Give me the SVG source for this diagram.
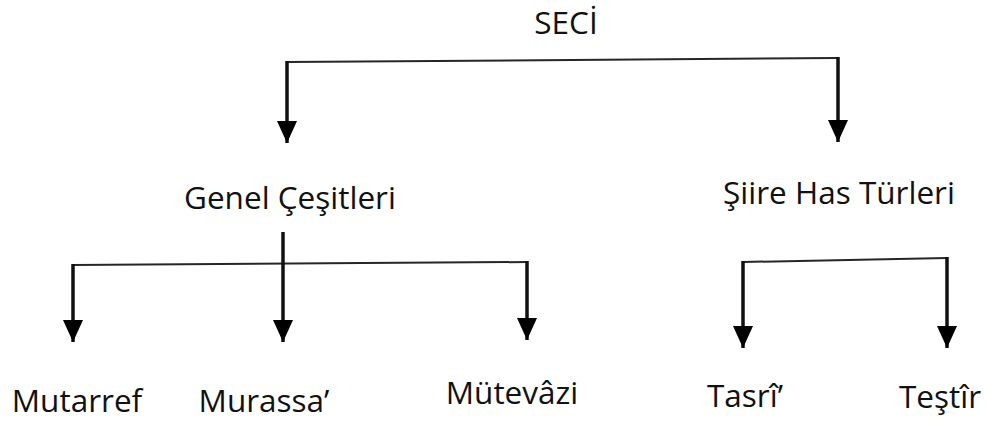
<svg xmlns="http://www.w3.org/2000/svg" width="994" height="427" viewBox="0 0 994 427">
<style>
.lbl{font-family:"Open Sans","Liberation Sans",sans-serif;font-size:31.5px;fill:#111;text-anchor:middle}
.bar{stroke:#262626;stroke-width:2;fill:none}
.drop{stroke:#111;stroke-width:3.5;fill:none;marker-end:url(#ah)}
</style>
<defs>
<marker id="ah" markerUnits="userSpaceOnUse" viewBox="0 0 22 20" markerWidth="22" markerHeight="20" refX="22" refY="10" orient="auto">
<path d="M0,0 L22,10 L0,20 z" fill="#000"/>
</marker>
</defs>
<rect width="994" height="427" fill="#fff"/>
<g id="connectors">
<path class="bar" d="M287,62 L838,58"/>
<path class="drop" d="M287,61 V143"/>
<path class="drop" d="M838,57 V142"/>
<path class="bar" d="M73,265 L527,262"/>
<path class="drop" d="M283,232 V342"/>
<path class="drop" d="M73,264 V342"/>
<path class="drop" d="M527,261 V340"/>
<path class="bar" d="M743,262 L947,258"/>
<path class="drop" d="M743,261 V348"/>
<path class="drop" d="M947,257 V348"/>
</g>
<g id="seci"><text class="lbl" x="566" y="34">SECİ</text></g>
<g id="genel"><text class="lbl" x="290" y="209">Genel Çeşitleri</text></g>
<g id="siire"><text class="lbl" x="839" y="204">Şiire Has Türleri</text></g>
<g id="mutarref"><text class="lbl" x="77" y="412">Mutarref</text></g>
<g id="murassa"><text class="lbl" x="264" y="412">Murassa’</text></g>
<g id="mutevazi"><text class="lbl" x="512" y="404">Mütevâzi</text></g>
<g id="tasri"><text class="lbl" x="745" y="407">Tasrî’</text></g>
<g id="testir"><text class="lbl" x="940" y="408">Teştîr</text></g>
</svg>
